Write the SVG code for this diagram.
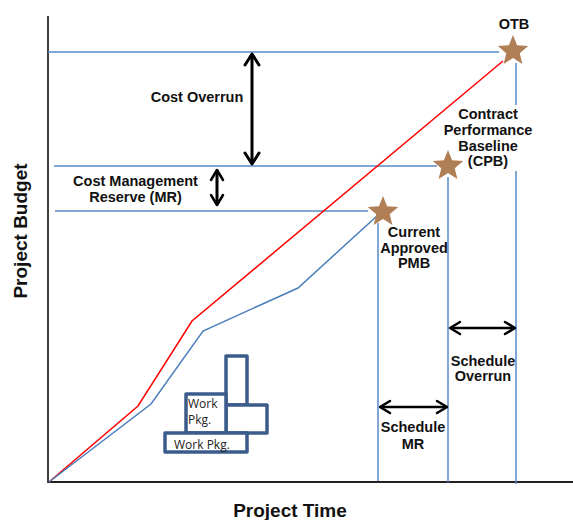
<svg xmlns="http://www.w3.org/2000/svg" width="573" height="520" viewBox="0 0 573 520">
<style>
.lbl{font-family:"Liberation Sans",Arial,sans-serif;font-weight:bold;font-size:14.5px;fill:#111;text-anchor:middle}
.ax{font-family:"Liberation Sans",Arial,sans-serif;font-weight:bold;font-size:19px;fill:#111;text-anchor:middle}
.ref{stroke:#5A8AC6;stroke-width:1.5;fill:none}
.wp{fill:#fff;stroke:#3B5C8A;stroke-width:3.5;stroke-linejoin:round}
.wpt{font-family:"Open Sans","Liberation Sans",sans-serif;font-size:12px;fill:#222}
.star{fill:#B07F55}
.arr{stroke:#000;fill:none}
</style>
<defs>
<marker id="chevL" markerUnits="userSpaceOnUse" viewBox="-14 -9 16 18" refX="0" refY="0" markerWidth="16" markerHeight="18" orient="auto-start-reverse" overflow="visible">
<path d="M-11,-7 L0,0 L-11,7" fill="none" stroke="#000" stroke-width="3" stroke-linecap="round" stroke-linejoin="round"/>
</marker>
<marker id="chevS" markerUnits="userSpaceOnUse" viewBox="-14 -9 16 18" refX="0" refY="0" markerWidth="16" markerHeight="18" orient="auto-start-reverse" overflow="visible">
<path d="M-10,-6 L0,0 L-10,6" fill="none" stroke="#000" stroke-width="2.5" stroke-linecap="round" stroke-linejoin="round"/>
</marker>
<path id="starShape" d="M0,-16 L4.1,-5.7 L15.2,-4.9 L6.7,2.2 L9.4,12.9 L0,7 L-9.4,12.9 L-6.7,2.2 L-15.2,-4.9 L-4.1,-5.7 Z"/>
</defs>
<rect width="573" height="520" fill="#fff"/>
<g id="axes">
<line x1="48" y1="16" x2="48" y2="483" stroke="#000" stroke-width="1.5"/>
<line x1="48" y1="482" x2="573" y2="482" stroke="#222" stroke-width="2"/>
<text class="ax" x="290" y="517">Project Time</text>
<text class="ax" transform="translate(27,231) rotate(-90)">Project Budget</text>
</g>
<g id="connectors">
<line class="ref" x1="48" y1="52" x2="499" y2="52"/>
<line class="ref" x1="54" y1="166" x2="437" y2="166"/>
<line class="ref" x1="55" y1="211" x2="368" y2="211"/>
<line class="ref" x1="378" y1="223" x2="378" y2="481"/>
<line class="ref" x1="448" y1="177" x2="448" y2="482"/>
<line class="ref" x1="516" y1="63" x2="516" y2="105"/>
<line class="ref" x1="516" y1="171" x2="516" y2="484"/>
<polyline points="49,482 138,406 192,321 503,61" fill="none" stroke="#FF0000" stroke-width="1.5"/>
<polyline points="49,482 151,404 203,331 298,288 378,215" fill="none" stroke="#4A7EBB" stroke-width="1.5"/>
<line class="arr" x1="252" y1="54" x2="252" y2="164" stroke-width="3" marker-start="url(#chevL)" marker-end="url(#chevL)"/>
<line class="arr" x1="217" y1="170" x2="217" y2="205" stroke-width="3" marker-start="url(#chevS)" marker-end="url(#chevS)"/>
<line class="arr" x1="450" y1="328" x2="515" y2="328" stroke-width="2.5" marker-start="url(#chevS)" marker-end="url(#chevS)"/>
<line class="arr" x1="380" y1="407" x2="447" y2="407" stroke-width="2.5" marker-start="url(#chevS)" marker-end="url(#chevS)"/>
</g>
<g id="otb">
<use href="#starShape" class="star" transform="translate(513,51)"/>
<text class="lbl" x="514" y="29">OTB</text>
</g>
<g id="cpb">
<use href="#starShape" class="star" transform="translate(448,166)"/>
<text class="lbl" x="488" y="119">Contract</text>
<text class="lbl" x="488" y="135">Performance</text>
<text class="lbl" x="488" y="151">Baseline</text>
<text class="lbl" x="488" y="166">(CPB)</text>
</g>
<g id="pmb">
<use href="#starShape" class="star" transform="translate(383,212)"/>
<text class="lbl" x="414" y="237">Current</text>
<text class="lbl" x="414" y="253">Approved</text>
<text class="lbl" x="414" y="268">PMB</text>
</g>
<g id="cost-overrun">
<text class="lbl" x="197" y="102">Cost Overrun</text>
</g>
<g id="cost-mr">
<text class="lbl" x="135.5" y="186">Cost Management</text>
<text class="lbl" x="135.5" y="201.5">Reserve (MR)</text>
</g>
<g id="schedule-overrun">
<text class="lbl" x="483" y="366">Schedule</text>
<text class="lbl" x="483" y="381">Overrun</text>
</g>
<g id="schedule-mr">
<text class="lbl" x="413" y="432">Schedule</text>
<text class="lbl" x="413" y="449">MR</text>
</g>
<g id="work-packages">
<rect class="wp" x="226" y="356" width="21" height="49"/>
<rect class="wp" x="226" y="405" width="41" height="28"/>
<rect class="wp" x="186" y="394" width="40" height="39"/>
<rect class="wp" x="165" y="433" width="82" height="19"/>
<text class="wpt" x="188" y="408">Work</text>
<text class="wpt" x="188" y="424">Pkg.</text>
<text class="wpt" x="174" y="449">Work Pkg.</text>
</g>
</svg>
